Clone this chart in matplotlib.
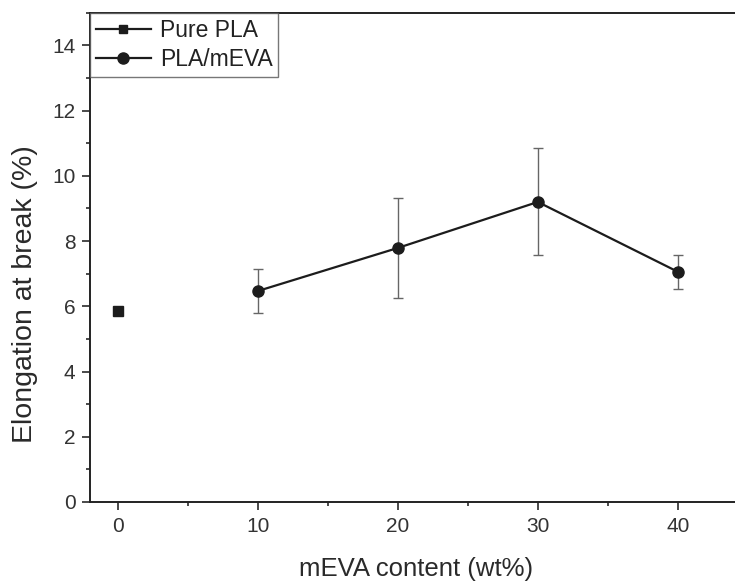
import matplotlib.pyplot as plt
from matplotlib.lines import Line2D
from matplotlib.ticker import MultipleLocator

plt.rcParams['font.family'] = ['Liberation Sans', 'DejaVu Sans']

# Elongation at break data
pla_content = [0]
pla_elong = [5.85]

meva_content = [10, 20, 30, 40]
meva_elong = [6.47, 7.79, 9.2, 7.06]
meva_err = [0.67, 1.53, 1.64, 0.52]

ink = '#1c1c1c'

fig = plt.figure(figsize=(7.35, 5.83), dpi=100)
ax = fig.add_axes([0.1224, 0.139, 0.914, 0.839])

ax.plot(pla_content, pla_elong, color=ink, marker='s', markersize=6.7,
        linestyle='none')
ax.errorbar(meva_content, meva_elong, yerr=meva_err, fmt='none',
            ecolor='#666666', elinewidth=1.0, capsize=3.6, capthick=1.0)
ax.plot(meva_content, meva_elong, color=ink, marker='o', markersize=8,
        linewidth=1.6)

ax.set_xlim(-2, 46)
ax.set_ylim(0, 15)
ax.xaxis.set_major_locator(MultipleLocator(10))
ax.xaxis.set_minor_locator(MultipleLocator(5))
ax.yaxis.set_major_locator(MultipleLocator(2))
ax.yaxis.set_minor_locator(MultipleLocator(1))
ax.tick_params(which='major', direction='out', length=5.5, width=1.2,
               colors='#2a2a2a', pad=5, labelsize=15, labelcolor='#333333')
ax.tick_params(which='minor', direction='out', length=3, width=1.2,
               colors='#2a2a2a')

for side in ['left', 'bottom', 'top', 'right']:
    ax.spines[side].set_linewidth(1.4)
    ax.spines[side].set_color('#222222')

ax.set_xlabel('mEVA content (wt%)', fontsize=18.5, color='#2a2a2a')
ax.xaxis.set_label_coords(0.485, -0.112)
ax.set_ylabel('Elongation at break (%)', fontsize=20.5, color='#2a2a2a')
ax.yaxis.set_label_coords(-0.078, 0.425)

handles = [
    Line2D([], [], color=ink, marker='s', markersize=6, linewidth=1.6),
    Line2D([], [], color=ink, marker='o', markersize=8, linewidth=1.6),
]
leg = ax.legend(handles, ['Pure PLA', 'PLA/mEVA'], loc='upper left',
                fontsize=16.5, frameon=True, fancybox=False, borderaxespad=0,
                handlelength=2.4, handletextpad=0.4, borderpad=0.25,
                labelspacing=0.3)
leg.get_frame().set_edgecolor('#555555')
leg.get_frame().set_linewidth(1.0)
for t in leg.get_texts():
    t.set_color('#222222')

plt.savefig('out.png', dpi=100)
